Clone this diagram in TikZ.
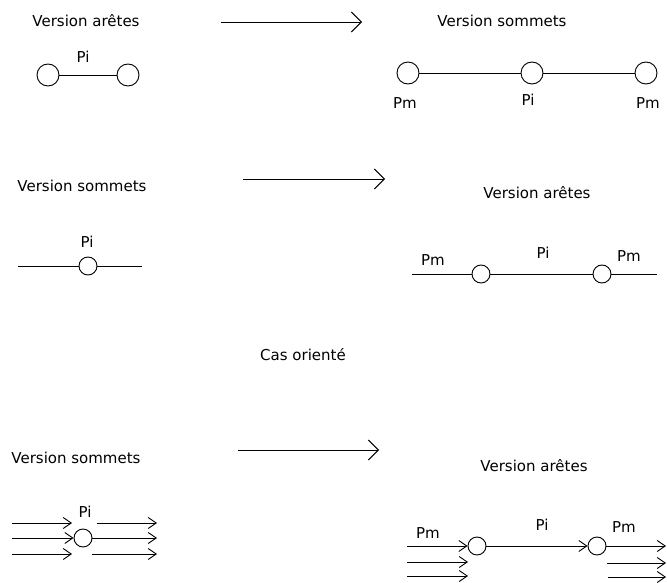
\documentclass[tikz,border=0pt]{standalone}
\usepackage{fontspec}
\setmainfont{DejaVu Sans}
\usetikzlibrary{arrows.meta}
\begin{document}
\begin{tikzpicture}[x=1pt,y=-1pt,
  lbl/.style={inner sep=0pt,font=\fontsize{15}{18}\selectfont},
  vtx/.style={circle,draw,line width=0.9pt,minimum size=18pt,inner sep=0pt},
  bigvtx/.style={vtx,minimum size=22pt},
  edge/.style={line width=0.9pt},
  bigarrow/.style={line width=0.9pt,-{Straight Barb[length=10pt,width=20pt,line width=0.9pt]}},
  flow/.style={line width=0.9pt,-{Straight Barb[length=8pt,width=11pt,line width=0.9pt]}}]
\useasboundingbox (0,0) rectangle (667,583);

% ---- edges to vertices ----
\node[lbl] (t1) at (86,21) {Version arêtes};
\node[lbl] (t2) at (502,21) {Version sommets};
\coordinate (a1s) at (221,22);
\coordinate (a1e) at (362,22);
\draw[bigarrow] (a1s) -- (a1e);

\node[bigvtx] (u1) at (48,75) {};
\node[bigvtx] (u2) at (128,75) {};
\draw[edge] (u1) -- (u2);
\node[lbl] (pi1) at (83,57) {Pi};

\node[bigvtx] (w1) at (408,73) {};
\node[bigvtx] (w2) at (532,73) {};
\node[bigvtx] (w3) at (646,73) {};
\draw[edge] (w1) -- (w2);
\draw[edge] (w2) -- (w3);
\node[lbl] (pm1) at (405,103) {Pm};
\node[lbl] (pi2) at (528,100) {Pi};
\node[lbl] (pm2) at (648,103) {Pm};

% ---- vertices to edges ----
\node[lbl] (t3) at (82,186) {Version sommets};
\node[lbl] (t4) at (537,193) {Version arêtes};
\coordinate (a2s) at (243,179);
\coordinate (a2e) at (385,179);
\draw[bigarrow] (a2s) -- (a2e);

\coordinate (l1) at (18,266);
\coordinate (l2) at (142,266);
\node[vtx] (v1) at (88,266) {};
\draw[edge] (l1) -- (v1);
\draw[edge] (v1) -- (l2);
\node[lbl] (pi3) at (87,242) {Pi};

\coordinate (r1) at (412,274);
\coordinate (r2) at (657,274);
\node[vtx] (x1) at (481,274) {};
\node[vtx] (x2) at (602,274) {};
\draw[edge] (r1) -- (x1);
\draw[edge] (x1) -- (x2);
\draw[edge] (x2) -- (r2);
\node[lbl] (pm3) at (433,260) {Pm};
\node[lbl] (pi4) at (543,253) {Pi};
\node[lbl] (pm4) at (629,256) {Pm};

% ---- directed case ----
\node[lbl] (t5) at (303,355) {Cas orienté};
\node[lbl] (t6) at (76,458) {Version sommets};
\node[lbl] (t7) at (534,466) {Version arêtes};
\coordinate (a3s) at (238,450);
\coordinate (a3e) at (379,450);
\draw[bigarrow] (a3s) -- (a3e);

% directed vertex with bundles of arcs
\node[vtx] (d1) at (83,538) {};
\node[lbl] (pi5) at (85,512) {Pi};
\coordinate (p1) at (12,523);  \coordinate (q1) at (72,523);
\coordinate (p2) at (12,538);
\coordinate (p3) at (12,554);  \coordinate (q3) at (72,554);
\coordinate (p4) at (97,523);  \coordinate (q4) at (157,523);
\coordinate (q5) at (157,538);
\coordinate (p6) at (92,554);  \coordinate (q6) at (157,554);
\draw[flow] (p1) -- (q1);
\draw[flow] (p2) -- (d1);
\draw[flow] (p3) -- (q3);
\draw[flow] (p4) -- (q4);
\draw[flow] (d1) -- (q5);
\draw[flow] (p6) -- (q6);

% directed edge between two vertices
\node[vtx] (e1) at (477,546) {};
\node[vtx] (e2) at (597,546) {};
\node[lbl] (pm5) at (428,533) {Pm};
\node[lbl] (pi6) at (542,525) {Pi};
\node[lbl] (pm6) at (624,527) {Pm};
\coordinate (s1) at (407,546);
\coordinate (s2) at (407,562);  \coordinate (f2) at (468,562);
\coordinate (s3) at (407,576);  \coordinate (f3) at (468,576);
\coordinate (f4) at (666,546);
\coordinate (s5) at (607,563);  \coordinate (f5) at (666,563);
\coordinate (s6) at (608,577);  \coordinate (f6) at (666,577);
\draw[flow] (s1) -- (e1);
\draw[flow] (s2) -- (f2);
\draw[flow] (s3) -- (f3);
\draw[flow] (e1) -- (e2);
\draw[flow] (e2) -- (f4);
\draw[flow] (s5) -- (f5);
\draw[flow] (s6) -- (f6);
\end{tikzpicture}
\end{document}
